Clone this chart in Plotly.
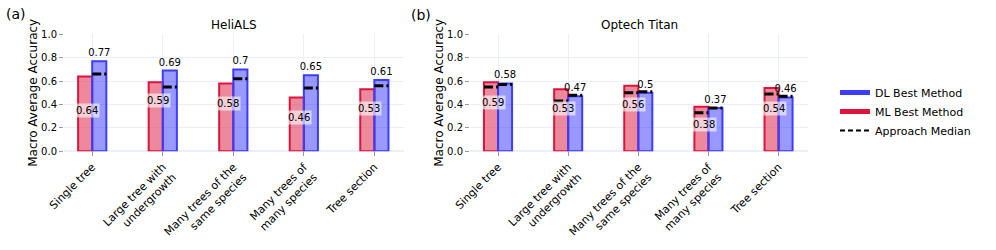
import plotly.graph_objects as go

categories = ["Single tree", "Large tree with<br>undergrowth", "Many trees of the<br>same species",
              "Many trees of<br>many species", "Tree section"]

heli_dl_best = [0.77, 0.69, 0.70, 0.65, 0.61]
heli_ml_best = [0.64, 0.59, 0.58, 0.46, 0.53]
heli_dl_median = [0.66, 0.55, 0.62, 0.54, 0.56]

titan_dl_best = [0.58, 0.47, 0.50, 0.37, 0.46]
titan_ml_best = [0.59, 0.53, 0.56, 0.38, 0.54]
titan_dl_median = [0.57, 0.48, 0.51, 0.37, 0.47]
titan_ml_median = [0.55, 0.43, 0.50, 0.33, 0.49]

W, H = 996, 250
FONT = "DejaVu Sans"
DL_LINE = "rgb(60,60,255)"
DL_FILL = "rgba(0,0,255,0.4)"
ML_LINE = "crimson"
ML_FILL = "rgba(220,20,60,0.5)"
BW = 0.2


def px(x):
    return x / W


def py(y):
    return 1 - y / H


fig = go.Figure()
idx = list(range(len(categories)))


def add_panel(n, dl, ml, dl_med, ml_med, ml_label_off):
    xa = "x" if n == 1 else f"x{n}"
    ya = "y" if n == 1 else f"y{n}"
    fig.add_trace(go.Bar(x=idx, y=ml, width=BW, offset=-BW, xaxis=xa, yaxis=ya,
                         marker=dict(color=ML_FILL, line=dict(color=ML_LINE, width=2)),
                         showlegend=False, hoverinfo="skip"))
    fig.add_trace(go.Bar(x=idx, y=dl, width=BW, offset=0, xaxis=xa, yaxis=ya,
                         marker=dict(color=DL_FILL, line=dict(color=DL_LINE, width=2)),
                         text=[str(v) for v in dl], textposition="outside",
                         textfont=dict(size=10, color="black", family=FONT),
                         constraintext="none", cliponaxis=False,
                         showlegend=False, hoverinfo="skip"))
    for med, off in ((dl_med, 0.0), (ml_med, -BW)):
        if med is None:
            continue
        xs, ys = [], []
        for i, m in zip(idx, med):
            xs += [i + off, i + off + BW, None]
            ys += [m, m, None]
        fig.add_trace(go.Scatter(x=xs, y=ys, mode="lines", xaxis=xa, yaxis=ya,
                                 line=dict(color="black", width=3, dash="dashdot"),
                                 showlegend=False, hoverinfo="skip"))
    for i, v, o in zip(idx, ml, ml_label_off):
        fig.add_annotation(x=i - BW / 2 + 0.03, y=v - o, xref=xa, yref=ya, text=str(v),
                           showarrow=False, bgcolor="rgba(255,255,255,0.6)",
                           font=dict(size=10, color="black", family=FONT))


add_panel(1, heli_dl_best, heli_ml_best, heli_dl_median, None, [0.29, 0.16, 0.17, 0.17, 0.16])
add_panel(2, titan_dl_best, titan_ml_best, titan_dl_median, titan_ml_median, [0.17, 0.16, 0.16, 0.15, 0.17])

# legend entries
fig.add_trace(go.Scatter(x=[None], y=[None], mode="lines", name="DL Best Method",
                         line=dict(color=DL_LINE, width=5)))
fig.add_trace(go.Scatter(x=[None], y=[None], mode="lines", name="ML Best Method",
                         line=dict(color=ML_LINE, width=5)))
fig.add_trace(go.Scatter(x=[None], y=[None], mode="lines", name="Approach Median",
                         line=dict(color="black", width=2, dash="5px,3px")))

GRID = "#EBF0F8"
xcommon = dict(tickvals=idx, ticktext=categories, tickangle=-45, range=[-0.4, 4.42],
               showgrid=True, gridcolor=GRID, zeroline=False, ticks="outside", ticklen=4,
               tickcolor="#999", tickfont=dict(size=11, family=FONT, color="black"),
               automargin=False, showline=False)
ycommon = dict(range=[0, 1.0], dtick=0.2, tickformat=".1f", showgrid=True, gridcolor=GRID,
               zeroline=True, zerolinecolor=GRID, zerolinewidth=2, ticks="outside", ticklen=4,
               tickcolor="#999", tickfont=dict(size=10, family=FONT, color="black"),
               automargin=False, showline=False)

ydom = [py(151.3), py(34.3)]
fig.update_layout(
    width=W, height=H, margin=dict(l=0, r=0, t=0, b=0),
    template="plotly_white", paper_bgcolor="white", plot_bgcolor="white",
    font=dict(family=FONT, color="black"),
    barmode="overlay",
    xaxis=dict(domain=[px(64), px(404)], anchor="y", **xcommon),
    yaxis=dict(domain=ydom, anchor="x", **ycommon),
    xaxis2=dict(domain=[px(470), px(808)], anchor="y2", **xcommon),
    yaxis2=dict(domain=ydom, anchor="x2", **ycommon),
    legend=dict(x=px(835), y=py(78), xanchor="left", yanchor="top",
                font=dict(size=11, family=FONT), bgcolor="rgba(0,0,0,0)"),
)

ann = [
    dict(text="(a)", x=px(15.5), y=py(14), font=dict(size=14)),
    dict(text="(b)", x=px(421), y=py(15), font=dict(size=14)),
    dict(text="HeliALS", x=px(234), y=py(25), font=dict(size=12)),
    dict(text="Optech Titan", x=px(639), y=py(25), font=dict(size=12)),
    dict(text="Macro Average Accuracy", x=px(33), y=py(92.8), textangle=-90, font=dict(size=12)),
    dict(text="Macro Average Accuracy", x=px(439), y=py(92.8), textangle=-90, font=dict(size=12)),
]
for a in ann:
    fig.add_annotation(xref="paper", yref="paper", showarrow=False,
                       xanchor="center", yanchor="middle", **a)

fig.write_html("out.html", config={"displayModeBar": False},
               post_script="document.body.style.margin='0';")
